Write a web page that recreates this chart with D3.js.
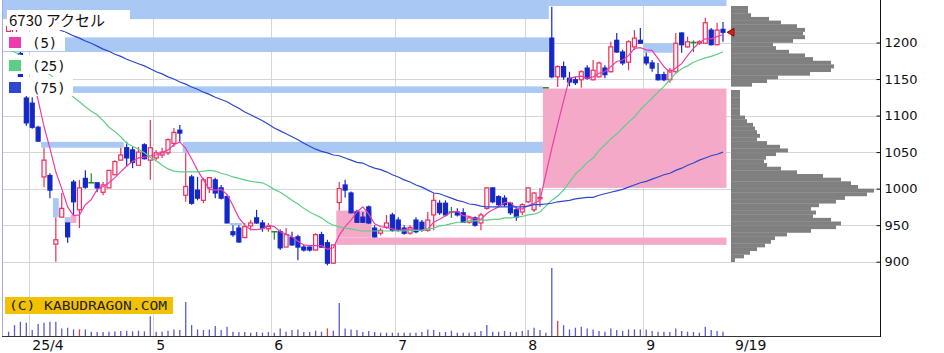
<!DOCTYPE html>
<html lang="ja">
<head>
<meta charset="utf-8">
<title>6730 アクセル</title>
<script src="https://d3js.org/d3.v7.min.js"></script>
<style>
  html, body { margin:0; padding:0; background:#fff; overflow:hidden; }
  svg { display:block; }
</style>
</head>
<body>
<svg id="chart" width="944" height="353"></svg>
<script>
// daily candles, 2025/3/26 - 2025/9/19
const dates = [
  "3/26","3/27","3/28","3/31",
  "4/1","4/2","4/3","4/4","4/7","4/8","4/9","4/10","4/11","4/14","4/15","4/16","4/17","4/18","4/21","4/22","4/23","4/24","4/25","4/28","4/30",
  "5/1","5/2","5/7","5/8","5/9","5/12","5/13","5/14","5/15","5/16","5/19","5/20","5/21","5/22","5/23","5/26","5/27","5/28","5/29","5/30",
  "6/2","6/3","6/4","6/5","6/6","6/9","6/10","6/11","6/12","6/13","6/16","6/17","6/18","6/19","6/20","6/23","6/24","6/25","6/26","6/27","6/30",
  "7/1","7/2","7/3","7/4","7/7","7/8","7/9","7/10","7/11","7/14","7/15","7/16","7/17","7/18","7/22","7/23","7/24","7/25","7/28","7/29","7/30","7/31",
  "8/1","8/4","8/5","8/6","8/7","8/8","8/12","8/13","8/14","8/15","8/18","8/19","8/20","8/21","8/22","8/25","8/26","8/27","8/28","8/29",
  "9/1","9/2","9/3","9/4","9/5","9/8","9/9","9/10","9/11","9/12","9/16","9/17","9/18","9/19"
];
const open = [
  1215,1212,1185,1124,
  1117,1084,1016,1018,924,961,953,1009,971,1014,1008,1008,995,1001,1019,1039,1056,1053,1032,1060,1039,
  1042,1046,1049,1062,1080,991,1016,998,984,1001,1012,1001,989,941,946,933,949,960,953,945,
  941,941,920,933,934,920,920,916,937,926,898,981,1005,994,968,961,975,946,939,947,964,
  957,946,939,957,954,943,964,980,980,968,968,967,954,960,953,973,1001,989,987,980,971,968,
  982,971,986,1138,1206,1153,1167,1151,1149,1149,1165,1149,1153,1165,1160,1203,1187,1173,1194,1203,
  1180,1172,1156,1156,1149,1160,1213,1194,1200,1199,1199,1217,1197,1218
];
const high = [
  1228,1224,1187,1131,
  1125,1086,1056,1021,961,994,953,1012,1012,1025,1021,1008,1009,1025,1039,1056,1064,1057,1057,1062,1094,
  1053,1056,1069,1083,1087,1049,1019,1016,1015,1016,1015,1005,991,950,950,953,957,971,957,953,
  941,944,946,941,937,923,922,939,941,930,923,1009,1012,996,971,968,977,950,946,964,967,
  961,950,950,961,957,968,994,984,984,975,973,973,962,962,967,1002,1002,991,991,982,975,980,
  1002,995,1001,1138,1249,1169,1174,1160,1153,1162,1169,1176,1174,1169,1201,1213,1190,1203,1217,1220,
  1186,1176,1172,1160,1165,1213,1214,1208,1203,1203,1234,1220,1227,1228
];
const low = [
  1210,1207,1141,1086,
  1082,1064,1002,987,900,961,926,964,946,1000,1008,995,991,1001,1019,1039,1030,1028,1032,1040,1012,
  1039,1042,1046,1057,1064,982,978,984,980,994,987,985,953,934,926,932,943,952,941,941,
  930,916,920,922,902,914,914,915,919,895,897,970,988,966,953,953,952,933,936,945,941,
  941,937,937,939,941,941,943,964,962,960,962,953,952,948,943,971,980,976,975,964,956,964,
  980,968,975,1138,1151,1139,1149,1140,1142,1138,1149,1148,1152,1151,1159,1186,1169,1162,1190,1199,
  1169,1160,1148,1147,1145,1158,1186,1193,1187,1197,1198,1196,1196,1201
];
const close = [
  1222,1218,1150,1090,
  1084,1065,1039,998,930,973,934,982,1001,1002,1008,1001,1005,1025,1037,1046,1042,1036,1050,1041,1056,
  1049,1050,1067,1077,1076,1003,980,987,1012,1015,994,987,953,937,927,948,953,953,946,948,
  941,919,937,923,920,916,916,937,920,898,923,1000,998,967,954,954,953,934,943,953,943,
  943,939,947,941,943,957,984,967,964,968,964,954,960,950,964,1001,982,978,978,967,961,978,
  1001,994,988,1138,1153,1167,1153,1146,1145,1160,1151,1162,1172,1156,1194,1187,1172,1201,1206,1199,
  1172,1165,1149,1149,1162,1199,1197,1201,1200,1201,1227,1197,1217,1214
];
const volume = [
  13,33,43,40,
  18,36,40,43,43,23,25,20,20,20,13,12,12,13,14,15,15,14,16,14,60,
  13,13,16,20,18,103,33,20,18,20,30,18,28,13,12,12,10,12,10,12,
  10,23,13,18,20,12,12,16,13,23,16,100,23,20,18,12,15,12,10,10,10,
  10,10,10,10,12,20,18,12,12,16,10,10,10,12,15,33,13,13,15,12,12,15,
  18,25,18,10,206,46,33,20,25,28,23,20,15,13,23,18,15,20,20,20,
  20,15,13,13,12,23,15,13,12,10,28,18,15,13
];
const volRedDates = ["4/11","6/13","8/8"];

// moving averages
const ma5 = [
  null,null,null,null,
  1153,1121,1085,1055,1023,1000,975,963,964,978,985,999,1003,1008,1015,1023,1031,1037,1042,1043,1045,
  1046,1049,1053,1060,1064,1055,1041,1025,1012,999,998,999,992,977,960,950,944,944,945,950,
  948,941,938,934,928,923,922,922,922,917,919,936,948,957,968,975,965,952,948,947,945,
  943,944,945,943,943,945,954,958,963,968,969,963,962,959,958,966,971,975,981,981,973,972,
  977,980,984,1020,1055,1088,1120,1151,1153,1154,1151,1153,1158,1160,1167,1174,1176,1182,1192,1193,
  1190,1189,1178,1167,1159,1165,1171,1182,1192,1200,1205,1205,1208,1211
];
const ma25 = [
  1190,1187,1183,1179,
  1173,1168,1162,1156,1149,1142,1135,1125,1119,1112,1106,1101,1093,1084,1078,1071,1062,1058,1054,1049,1043,
  1038,1032,1027,1024,1023,1023,1023,1023,1024,1025,1024,1021,1019,1016,1014,1012,1010,1009,1008,1004,
  999,995,990,984,979,973,968,964,960,954,950,948,946,945,943,942,942,942,942,942,942,
  942,942,943,943,943,945,946,949,950,952,954,954,956,956,957,957,958,958,960,960,961,962,
  964,965,968,976,984,990,998,1009,1020,1027,1036,1042,1052,1060,1068,1075,1083,1091,1098,1108,
  1116,1124,1132,1140,1149,1158,1164,1168,1173,1176,1179,1181,1184,1187
];
const ma75 = [
  null,null,null,null,
  null,null,null,null,1220,1216,1213,1209,1206,1202,1199,1195,1191,1188,1184,1181,1177,1174,1171,1168,1164,
  1160,1157,1153,1150,1146,1143,1139,1136,1132,1129,1125,1122,1119,1114,1110,1105,1101,1097,1093,1088,
  1083,1079,1075,1071,1067,1062,1058,1054,1051,1049,1046,1045,1042,1039,1036,1035,1031,1028,1026,1023,1019,
  1016,1012,1009,1005,1002,998,994,993,990,987,984,982,979,978,976,975,975,975,975,975,975,975,
  976,978,978,979,980,982,983,984,986,987,988,988,991,993,995,997,999,1002,1005,1008,
  1010,1013,1016,1019,1021,1025,1028,1032,1035,1039,1042,1045,1047,1050
];

// price gaps (窓): [from date, to date (filled), upper price, lower price]; null = outside the chart / still open
const downGaps = [
  [null,"8/7",1262,1232], ["8/7",null,1262,1250],
  [null,"8/7",1207,1187], [null,"8/6",1140,1131],
  ["4/3","4/23",1064,1056], ["4/7","4/8",987,961], ["4/9","4/10",961,953],
  ["5/12","8/6",1064,1049], ["5/22","5/26",953,950], ["9/1","9/8",1199,1186]
];
const upGaps = [
  ["4/10","4/11",964,953], ["6/17","6/25",970,933], ["6/17",null,933,923], ["8/6",null,1137,1001]
];

// volume by price (5 yen bins, lower edge)
const profilePrice = [
  1245,1240,1235,1230,1225,1220,1215,1210,1205,1200,1195,1190,1185,1180,1175,1170,1165,1160,1155,1150,1145,1140,1135,1130,
  1125,1120,1115,1110,1105,1100,1095,1090,1085,1080,1075,1070,1065,1060,1055,1050,1045,1040,1035,1030,1025,1020,1015,1010,
  1005,1000,995,990,985,980,975,970,965,960,955,950,945,940,935,930,925,920,915,910,905,900
];
const profileVol = [
  17,17,20,38,50,66,74,72,74,62,42,45,58,74,82,100,103,100,79,47,36,21,0,9,
  9,9,9,9,9,9,14,16,22,24,26,29,26,36,49,57,45,35,33,36,50,66,92,110,
  120,127,143,136,114,105,88,80,85,82,100,110,105,80,56,44,40,34,26,19,13,4
];

const yTicks = [900, 950, 1000, 1050, 1100, 1150, 1200];
const monthStarts = ["4/1","5/1","6/2","7/1","8/1","9/1"];
const monthLabels = ["25/4","5","6","7","8","9"];
const lastLabel = "9/19";
const legendNames = ["(5)","(25)","(75)"];

const svg = d3.select("#chart");
const W = 944, H = 353;
const plotL = 2, plotR = 880, volBase = 336;

const x = d3.scalePoint().domain(dates).range([8.6, 723]);
const step = x.step();
const y = d3.scaleLinear().domain([900, 1200]).range([261.7, 42.5]);
const yVol = d3.scaleLinear().domain([0, 206]).range([volBase, 268]);
const xProf = d3.scaleLinear().domain([0, 150]).range([731, 881]);
const lastX = x(dates[dates.length - 1]);
const idx = d3.range(dates.length);

const upCol = "#e8305a", downCol = "#1428c8", dojiCol = "#1f8a2a";

svg.append("rect").attr("width", W).attr("height", H).attr("fill", "#fff");

svg.append("defs").append("clipPath").attr("id", "pane")
  .append("rect").attr("x", plotL).attr("y", 0).attr("width", plotR - plotL).attr("height", volBase);

const pane = svg.append("g").attr("clip-path", "url(#pane)");

// grid
pane.append("g").selectAll("line").data(yTicks).join("line")
  .attr("x1", plotL).attr("x2", plotR)
  .attr("y1", d => Math.round(y(d)) + 0.5).attr("y2", d => Math.round(y(d)) + 0.5)
  .attr("stroke", "#d6d6d6");
pane.append("g").selectAll("line").data(monthStarts).join("line")
  .attr("x1", d => Math.round(x(d) - step / 2) + 0.5).attr("x2", d => Math.round(x(d) - step / 2) + 0.5)
  .attr("y1", 0).attr("y2", volBase)
  .attr("stroke", "#d6d6d6");

// gaps
const gx0 = f => f === null ? plotL : x(f) - step / 2;
const gx1 = t => t === null ? lastX + step / 2 + 0.5 : x(t) - step / 2;
function drawGaps(list, col) {
  pane.append("g").selectAll("rect").data(list).join("rect")
    .attr("x", d => gx0(d[0]))
    .attr("width", d => gx1(d[1]) - gx0(d[0]))
    .attr("y", d => y(d[2]))
    .attr("height", d => y(d[3]) - y(d[2]))
    .attr("fill", col);
}
drawGaps(downGaps, "#a9c8f3");
drawGaps(upGaps, "#f5a9c9");

// volume profile
pane.append("g").selectAll("rect").data(d3.range(profilePrice.length)).join("rect")
  .attr("x", xProf(0))
  .attr("y", i => y(profilePrice[i] + 5))
  .attr("width", i => xProf(profileVol[i]) - xProf(0))
  .attr("height", i => y(profilePrice[i]) - y(profilePrice[i] + 5) + 0.3)
  .attr("fill", "#808080");

// volume bars
pane.append("g").selectAll("line").data(idx).join("line")
  .attr("x1", i => x(dates[i])).attr("x2", i => x(dates[i]))
  .attr("y1", yVol(0)).attr("y2", i => yVol(volume[i]))
  .attr("stroke", i => volRedDates.includes(dates[i]) ? "#d04848" : "#5a5ad2")
  .attr("stroke-width", 1.3);

// candles
const colOf = i => close[i] > open[i] ? upCol : (close[i] < open[i] ? downCol : dojiCol);
const cg = pane.append("g");
cg.selectAll("line.wick").data(idx).join("line").attr("class", "wick")
  .attr("x1", i => x(dates[i])).attr("x2", i => x(dates[i]))
  .attr("y1", i => y(high[i])).attr("y2", i => y(low[i]))
  .attr("stroke", colOf).attr("stroke-width", 1.2);
cg.selectAll("rect.body").data(idx.filter(i => close[i] !== open[i])).join("rect").attr("class", "body")
  .attr("x", i => x(dates[i]) - 2)
  .attr("width", 4)
  .attr("y", i => y(Math.max(open[i], close[i])))
  .attr("height", i => Math.max(1, Math.abs(y(open[i]) - y(close[i]))))
  .attr("fill", i => close[i] > open[i] ? "#fff4f7" : downCol)
  .attr("stroke", colOf).attr("stroke-width", 1.2);
cg.selectAll("line.doji").data(idx.filter(i => close[i] === open[i])).join("line").attr("class", "doji")
  .attr("x1", i => x(dates[i]) - 3).attr("x2", i => x(dates[i]) + 3)
  .attr("y1", i => y(close[i])).attr("y2", i => y(close[i]))
  .attr("stroke", dojiCol).attr("stroke-width", 1.5);

// moving averages
const maLine = d3.line().defined(d => d != null).x((d, i) => x(dates[i])).y(d => y(d));
const maCols = ["#ec3cae", "#5ccf84", "#2c48d0"];
[ma5, ma25, ma75].forEach((m, k) => {
  pane.append("path").attr("d", maLine(m))
    .attr("fill", "none").attr("stroke", maCols[k]).attr("stroke-width", 1.2);
});

// last price marker
const lastY = y(close[close.length - 1]);
svg.append("path")
  .attr("d", `M${lastX + 4},${lastY} L${lastX + 11},${lastY - 4} L${lastX + 11},${lastY + 4} Z`)
  .attr("fill", "#e01818").attr("stroke", "#7a0000").attr("stroke-width", 0.8);

// legend
const lg = svg.append("g");
lg.append("rect").attr("x", 7).attr("y", 10).attr("width", 123).attr("height", 20).attr("fill", "#fff");
lg.append("text").attr("x", 9).attr("y", 26)
  .attr("font-family", "'Noto Sans CJK JP', 'DejaVu Sans', sans-serif").attr("font-size", 15)
  .attr("fill", "#111").text("6730 アクセル");
const rowTop = [32, 55, 77], rowW = [62, 70, 70];
legendNames.forEach((n, k) => {
  lg.append("rect").attr("x", 3).attr("y", rowTop[k]).attr("width", rowW[k]).attr("height", 19).attr("fill", "#fff");
  lg.append("rect").attr("x", 9).attr("y", rowTop[k] + 5).attr("width", 12).attr("height", 11).attr("fill", maCols[k]);
  lg.append("text").attr("x", 32).attr("y", rowTop[k] + 16)
    .attr("font-family", "'DejaVu Sans Mono', monospace").attr("font-size", 14)
    .attr("fill", "#111").text(n);
});

// frame
svg.append("line").attr("x1", 2.5).attr("x2", 2.5).attr("y1", 0).attr("y2", volBase).attr("stroke", "#a8a8e4");
svg.append("line").attr("x1", plotL).attr("x2", plotR).attr("y1", volBase + 0.5).attr("y2", volBase + 0.5).attr("stroke", "#333");
svg.append("line").attr("x1", plotR + 0.5).attr("x2", plotR + 0.5).attr("y1", 0).attr("y2", volBase + 1).attr("stroke", "#111");

// price axis
svg.append("g").attr("transform", `translate(${plotR + 0.5},0)`)
  .call(d3.axisRight(y).tickValues(yTicks).tickFormat(d3.format("d")).tickSize(-4).tickPadding(4).tickSizeOuter(0))
  .call(g => g.select(".domain").remove())
  .call(g => g.selectAll(".tick line").attr("stroke", "#111"))
  .call(g => g.selectAll("text").attr("font-family", "'DejaVu Sans', sans-serif").attr("font-size", 13).attr("fill", "#111"));

// date labels
svg.append("g").selectAll("text").data(monthStarts).join("text")
  .attr("x", d => x(d) - step / 2 + 3).attr("y", 350)
  .attr("font-family", "'DejaVu Sans', sans-serif").attr("font-size", 14).attr("fill", "#111")
  .text((d, i) => monthLabels[i]);
svg.append("text").attr("x", lastX + 12).attr("y", 350)
  .attr("font-family", "'DejaVu Sans', sans-serif").attr("font-size", 14).attr("fill", "#111")
  .text(lastLabel);

// watermark
svg.append("rect").attr("x", 5).attr("y", 297).attr("width", 168).attr("height", 17).attr("fill", "#f2c200");
svg.append("text").attr("x", 9).attr("y", 310)
  .attr("font-family", "'DejaVu Sans Mono', monospace").attr("font-size", 12)
  .attr("textLength", 158).attr("lengthAdjust", "spacingAndGlyphs")
  .attr("fill", "#222").text("(C) KABUDRAGON.COM");
</script>
</body>
</html>
